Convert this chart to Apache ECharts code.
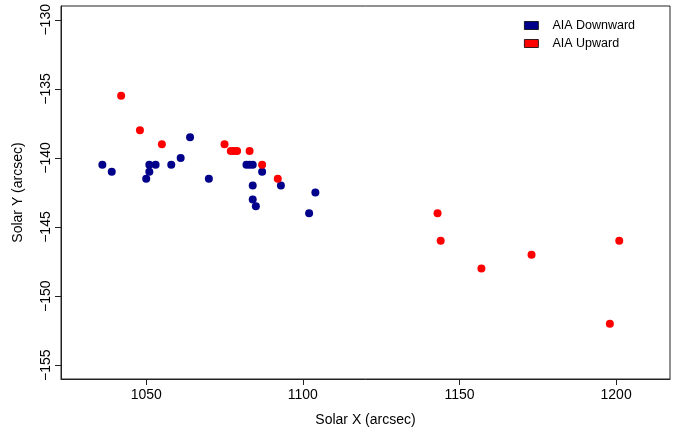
<!DOCTYPE html>
<html>
<head>
<meta charset="utf-8">
<script src="https://cdn.jsdelivr.net/npm/echarts@6/dist/echarts.min.js"></script>
<style>
  html, body { margin: 0; padding: 0; background: #fff; }
  #chart { width: 684px; height: 432px; }
</style>
</head>
<body>
<div id="chart"></div>
<script>
// AIA downward points
const downX = [1036, 1039, 1050, 1051, 1051, 1053, 1058, 1061, 1064, 1070,
  1082, 1083, 1084, 1087, 1084, 1084, 1085, 1093, 1104, 1102];
const downY = [-140.5, -141, -141.5, -141, -140.5, -140.5, -140.5, -140, -138.5, -141.5,
  -140.5, -140.5, -140.5, -141, -142, -143, -143.5, -142, -142.5, -144];

// AIA upward points
const upX = [1042, 1048, 1055, 1075, 1077, 1078, 1079, 1083, 1087, 1092,
  1143, 1144, 1157, 1173, 1198, 1201];
const upY = [-135.5, -138, -139, -139, -139.5, -139.5, -139.5, -139.5, -140.5, -141.5,
  -144, -146, -148, -147, -152, -146];

const xTicks = [1050, 1100, 1150, 1200];
const yTicks = [-155, -150, -145, -140, -135, -130];

const FONT = 'Liberation Sans';
const minus = v => String(v).replace('-', '\u2212');

const zip = (xs, ys) => xs.map((x, i) => [x, ys[i]]);

const chart = echarts.init(document.getElementById('chart'));

const option = {
  animation: false,
  textStyle: { fontFamily: FONT },
  grid: {
    left: 61, right: 14, top: 6, bottom: 49,
    show: true, borderColor: '#222', borderWidth: 1, backgroundColor: 'transparent'
  },
  legend: {
    orient: 'vertical',
    left: 519, top: 14,
    itemWidth: 14, itemHeight: 8,
    itemGap: 5,
    icon: 'rect',
    textStyle: { fontSize: 12.5, color: '#000', fontFamily: FONT, padding: [0, 0, 0, 9] },
    itemStyle: { borderColor: '#000', borderWidth: 0.8 },
    data: ['AIA Downward', 'AIA Upward']
  },
  xAxis: {
    type: 'value',
    min: 1022.8, max: 1217.2,
    name: 'Solar X (arcsec)',
    nameLocation: 'middle',
    nameGap: 34,
    nameTextStyle: { fontSize: 14, color: '#000', fontFamily: FONT },
    axisLine: { show: true, lineStyle: { color: '#222', width: 1 } },
    axisTick: { show: true, length: 6, customValues: xTicks, lineStyle: { color: '#222' } },
    axisLabel: {
      customValues: xTicks, fontSize: 14, color: '#000', margin: 9, fontFamily: FONT,
      formatter: v => String(v)
    },
    splitLine: { show: false }
  },
  yAxis: {
    type: 'value',
    min: -156, max: -129,
    name: 'Solar Y (arcsec)',
    nameLocation: 'middle',
    nameGap: 36,
    nameRotate: 90,
    nameTextStyle: { fontSize: 14, color: '#000', fontFamily: FONT },
    axisLine: { show: true, lineStyle: { color: '#222', width: 1 } },
    axisTick: { show: true, length: 6, customValues: yTicks, lineStyle: { color: '#222' } },
    axisLabel: {
      customValues: yTicks, rotate: 90, fontSize: 14, color: '#000', margin: 8,
      fontFamily: FONT, formatter: minus
    },
    splitLine: { show: false }
  },
  series: [
    {
      name: 'AIA Downward',
      type: 'scatter',
      symbol: 'circle',
      symbolSize: 8,
      itemStyle: { color: '#00008B', opacity: 1 },
      data: zip(downX, downY)
    },
    {
      name: 'AIA Upward',
      type: 'scatter',
      symbol: 'circle',
      symbolSize: 8,
      itemStyle: { color: '#FF0000', opacity: 1 },
      data: zip(upX, upY)
    }
  ]
};

chart.setOption(option);
</script>
</body>
</html>
